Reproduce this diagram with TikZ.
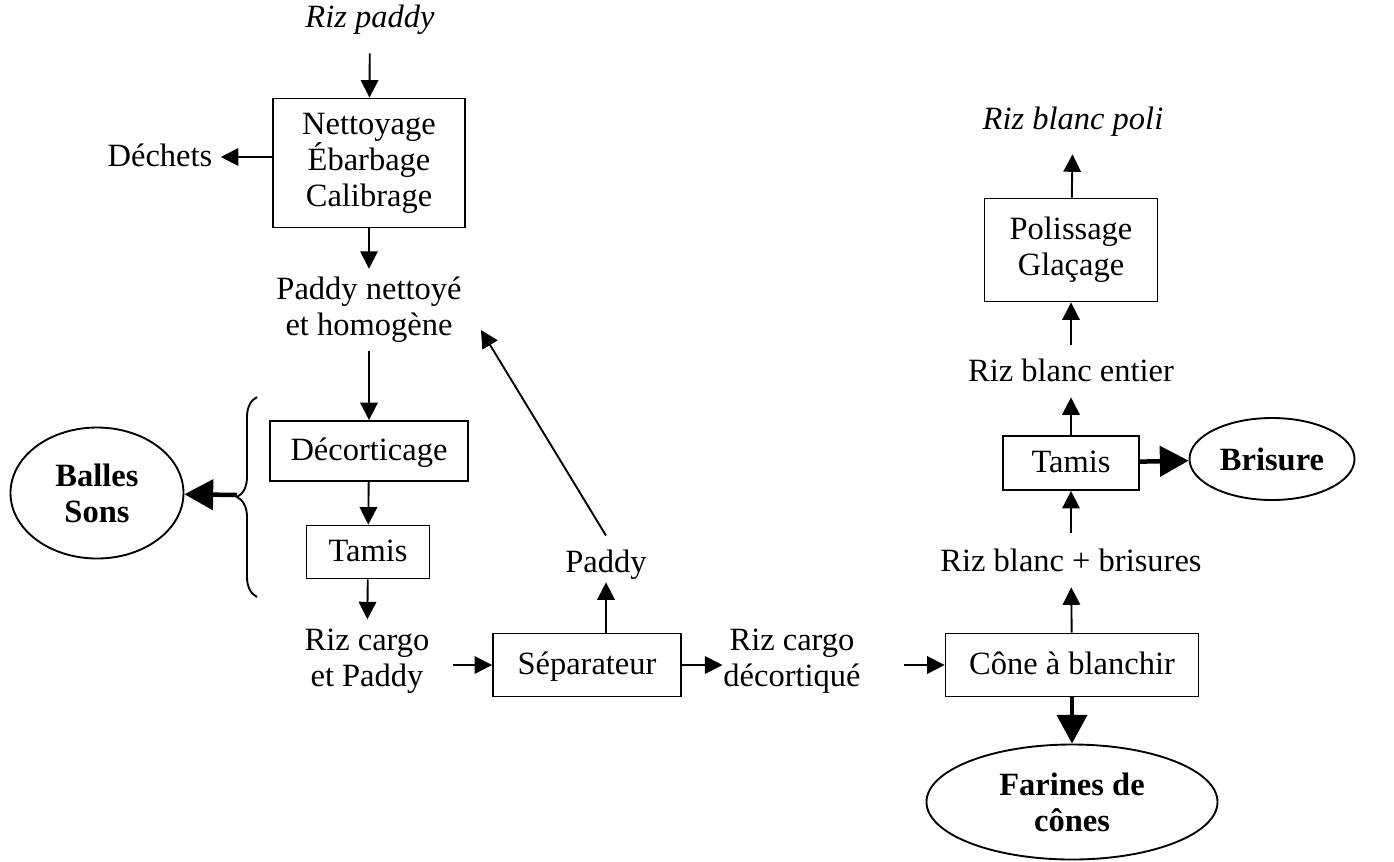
\documentclass[tikz,border=0pt]{standalone}
\usepackage{fontspec}
\setmainfont{Liberation Serif}
\usetikzlibrary{arrows.meta,shapes.geometric,decorations.pathreplacing}

\begin{document}
\begin{tikzpicture}[x=0.4pt,y=-0.4pt,line width=0.75pt,
    font=\fontsize{13}{14.4}\selectfont,
    >={Triangle[length=7pt,width=7pt]},
    etape/.style={draw,rectangle,align=center,inner sep=0pt},
    case/.style={etape,text height=0.85em,text depth=0.1em},
    texte/.style={align=center,inner sep=0pt},
    ligne/.style={texte,text height=0.85em,text depth=0.1em},
    sortie/.style={draw,ellipse,align=center,inner sep=0pt,font=\fontsize{13}{14.4}\selectfont\bfseries},
    gros/.style={line width=1.8pt,-{Triangle[length=11.5pt,width=12pt]}}]
    \useasboundingbox (0,0) rectangle (1394,861);
    \node[ligne] (pad) at (370,18) {\itshape Riz paddy};
    \node[etape, minimum width=76.8pt, minimum height=51.6pt] (clean) at (369,163) {Nettoyage\\Ébarbage\\Calibrage};
    \node[ligne] (dechets) at (160,157) {Déchets};
    \node[texte] (pnet) at (369,310) {Paddy nettoyé\\et homogène};
    \node[case, minimum width=79.2pt, minimum height=24pt] (decort) at (369,451) {Décorticage};
    \node[case, minimum width=49.2pt, minimum height=21.2pt] (tamis1) at (368,552) {Tamis};
    \node[sortie, minimum width=69.2pt, minimum height=52.4pt] (balles) at (97,493) {Balles\\Sons};
    \node[texte] (cargo) at (367,661) {Riz cargo\\et Paddy};
    \node[case, minimum width=75.2pt, minimum height=25.2pt] (sep) at (587,665) {Séparateur};
    \node[ligne] (paddy) at (606,563) {Paddy};
    \node[texte] (rcd) at (792,661) {Riz cargo\\décortiqué};
    \node[case, minimum width=101.2pt, minimum height=25.2pt] (cone) at (1072,665) {Cône à blanchir};
    \node[sortie, minimum width=116.4pt, minimum height=46pt] (farines) at (1072,802) {Farines de\\cônes};
    \node[ligne] (rbb) at (1071,562) {Riz blanc + brisures};
    \node[case, minimum width=54.4pt, minimum height=21.6pt] (tamis2) at (1071,463) {Tamis};
    \node[sortie, minimum width=66pt, minimum height=32.8pt] (brisure) at (1272,459) {Brisure};
    \node[ligne] (rbe) at (1071,372) {Riz blanc entier};
    \node[etape, minimum width=69.2pt, minimum height=41.2pt] (polish) at (1071,250) {Polissage\\Glaçage};
    \node[ligne] (rbp) at (1073,120) {\itshape Riz blanc poli};
    \coordinate (bhaut) at (257,397);
    \coordinate (bbas) at (257,597);
    \coordinate (bpointe) at (237,495);
    \draw[decorate,decoration={brace,amplitude=8pt}] (bbas) -- (bhaut);
    \path[->]
          (pad) edge [shorten <=9pt] (clean)
          (clean.west |- dechets) edge [shorten >=3pt] (dechets.east)
          (clean) edge [shorten >=3pt] (pnet)
          (pnet) edge [shorten <=3pt] (decort)
          (decort) edge (tamis1)
          (tamis1) edge [shorten >=3.4pt] (cargo)
          (cargo.east |- sep.west) edge [shorten <=9pt] (sep.west)
          (sep.east) edge (sep.east -| rcd.west)
          (rcd.east |- cone.west) edge [shorten <=17pt] (cone.west)
          (paddy |- sep.north) edge [shorten >=2.6pt] (paddy)
          ([shift={(0,-14.6)}]paddy.north) edge ([shift={(18.5,20)}]pnet.east)
          (cone) edge [shorten >=5pt] (rbb)
          (rbb) edge [shorten <=6.6pt] (tamis2)
          (tamis2) edge [shorten >=5pt] (rbe)
          (rbe) edge [shorten <=5.8pt] (polish)
          (polish) edge [shorten >=8.6pt] (rbp);
    \draw[gros] (bpointe) -- (balles);
    \draw[gros] (cone) -- (farines);
    \draw[gros] (tamis2) -- (brisure);
\end{tikzpicture}
\end{document}
